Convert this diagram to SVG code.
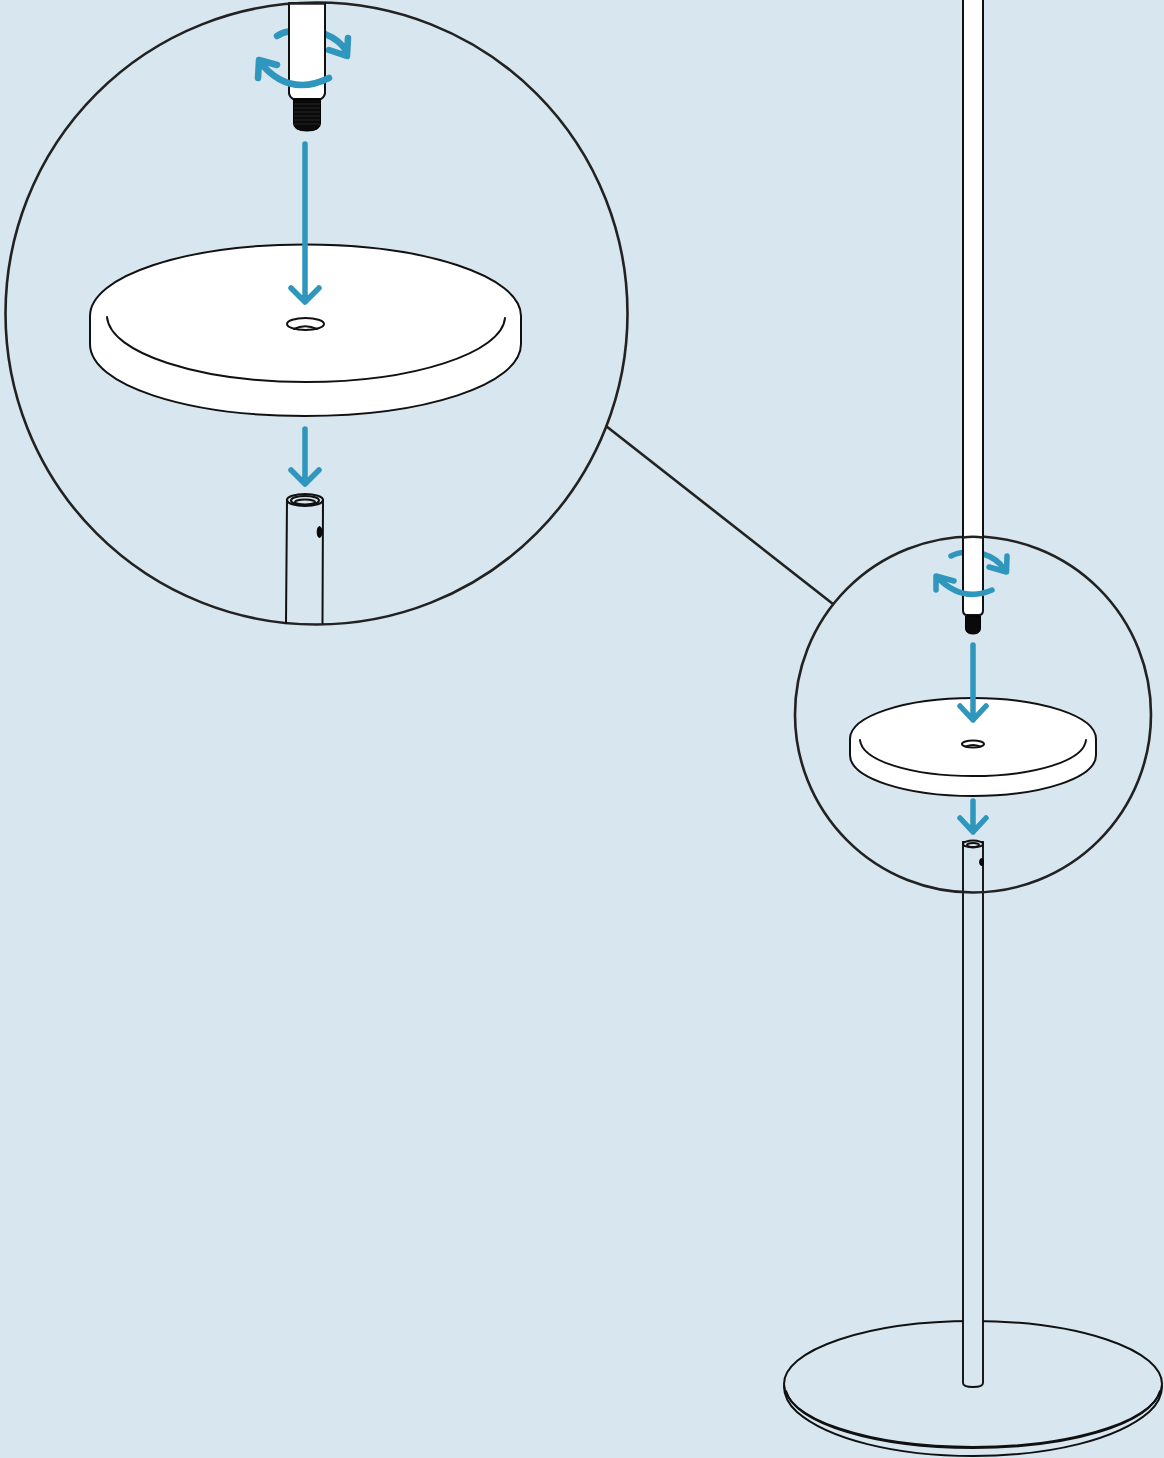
<svg xmlns="http://www.w3.org/2000/svg" width="1164" height="1458" viewBox="0 0 1164 1458">
<style>
.l{fill:none;stroke:#111;stroke-width:2;stroke-linejoin:round;stroke-linecap:round}
.w{fill:#fff;stroke:#111;stroke-width:2;stroke-linejoin:round}
.bg{fill:#d8e6ef;stroke:#111;stroke-width:1.9}
.c{fill:none;stroke:#222;stroke-width:2.6}
.a{fill:none;stroke:#2f96bd;stroke-width:5.500;stroke-linecap:round;stroke-linejoin:round}
.r{fill:none;stroke:#2f96bd;stroke-width:6.500;stroke-linecap:round;stroke-linejoin:round}
.s{fill:none;stroke:#2f96bd;stroke-width:5.500;stroke-linecap:round;stroke-linejoin:round}
.k{fill:#0a0a0a;stroke:#000;stroke-width:1}
.t{fill:none;stroke:#3a3a3a;stroke-width:.6}
</style>
<rect width="1164" height="1458" fill="#d8e6ef"/>
<g id="connector-lines"><path class="c" d="M606 426L833 604"/></g>
<g id="floor-base">
<path class="l" d="M784 1386C784 1396 788 1404 797 1412C828 1439 895 1456 973 1456C1051 1456 1118 1439 1149 1412C1158 1404 1162 1396 1162 1386"/>
<ellipse class="l" cx="973" cy="1384" rx="189" ry="63"/>
<path class="l" d="M786 1391C796 1424 875 1448 973 1448C1071 1448 1150 1424 1160 1391"/>
<path class="bg" d="M963 842V1383Q963 1387 973 1387Q983 1387 983 1383V842Z"/>
<ellipse class="bg" cx="973" cy="844" rx="10" ry="3.500"/>
<ellipse class="l" cx="973" cy="845" rx="6" ry="2"/>
<ellipse class="k" cx="981.500" cy="862" rx="1.800" ry="3.500"/>
</g>
<g id="small-circle">
<circle class="c" cx="973" cy="714.500" r="178"/>
</g>
<g id="small-arrows-back">
<path class="s" d="M951 556Q958 552.500 964 552.500M983 554Q997 558 1005 570M1007 556L1006.500 572L989 567"/>
</g>
<g id="small-rod">
<path class="w" d="M963 -2V610Q963 615 967 615H979Q983 615 983 610V-2Z"/>
<path class="c" d="M963 537.500Q973 536 983 537.500"/>
<path class="k" d="M965.500 616H980.500V628Q980.500 634 973 634Q965.500 634 965.500 628Z"/>
</g>
<g id="small-disc">
<path class="w" d="M850 739C850 716 905 698 973 698C1041 698 1096 716 1096 739V755C1096 778 1041 796 973 796C905 796 850 778 850 755Z"/>
<path class="l" d="M860 740C862 761 912 776 973 776C1034 776 1084 761 1086 740"/>
<ellipse class="l" cx="973" cy="744" rx="11" ry="3.500"/>
<path class="l" d="M966 746.500Q973 743.500 980 746.500"/>
</g>
<g id="small-arrows">
<path class="s" d="M992 590Q962 603 937 577M936 590L936 576L954 581"/>
<path class="a" d="M973 645V720M960 706L973 720L986 706"/>
<path class="a" d="M973 801V832M960 818L973 832L986 818"/>
</g>
<g id="large-circle">
<circle class="c" cx="316.500" cy="313.500" r="311"/>
</g>
<g id="large-socket">
<path class="l" d="M287 500L286 623M323 500L322.500 623"/>
<ellipse class="l" cx="305" cy="500" rx="18" ry="6" style="stroke-width:2.200"/>
<ellipse class="l" cx="305" cy="500.500" rx="14" ry="4.500"/>
<ellipse class="l" cx="305" cy="502" rx="10" ry="2.500"/>
<ellipse class="k" cx="319.500" cy="532" rx="2.300" ry="5.500"/>
</g>
<g id="large-arrows-back">
<path class="r" d="M277 36Q283 32 289 31.500M325 34Q340 40 347 52M348 38L347 56L329 50"/>
</g>
<g id="large-rod">
<path class="w" d="M289 3V93Q289 96 293 99H321Q325 96 325 93V3Z"/>
<path class="c" d="M289 3.500H325"/>
<path class="k" d="M293.500 99H320.500V123Q320.500 131 307 131Q293.500 131 293.500 123Z"/>
<path class="t" d="M294 104H320M294 108H320M294 112H320M294 116H320M294 120H320M294 124H320"/>
</g>
<g id="large-disc">
<path class="w" d="M90 316C90 276 186 244.500 305 244.500C424 244.500 521 276 521 316V344C521 385 424 416 305 416C186 416 90 385 90 344Z"/>
<path class="l" d="M107 317C110 353 199 382 306 382C413 382 502 353 505 318"/>
<ellipse class="l" cx="305.500" cy="324" rx="18.500" ry="6"/>
<path class="l" d="M294 329Q305 323.500 317 329"/>
</g>
<g id="large-arrows">
<path class="r" d="M329 78Q288 98 259 61M258 78L259 60L277 65"/>
<path class="a" d="M305 144V302M291 288L305 302L319 288"/>
<path class="a" d="M305 429V484M291 470L305 484L319 470"/>
</g>
</svg>
